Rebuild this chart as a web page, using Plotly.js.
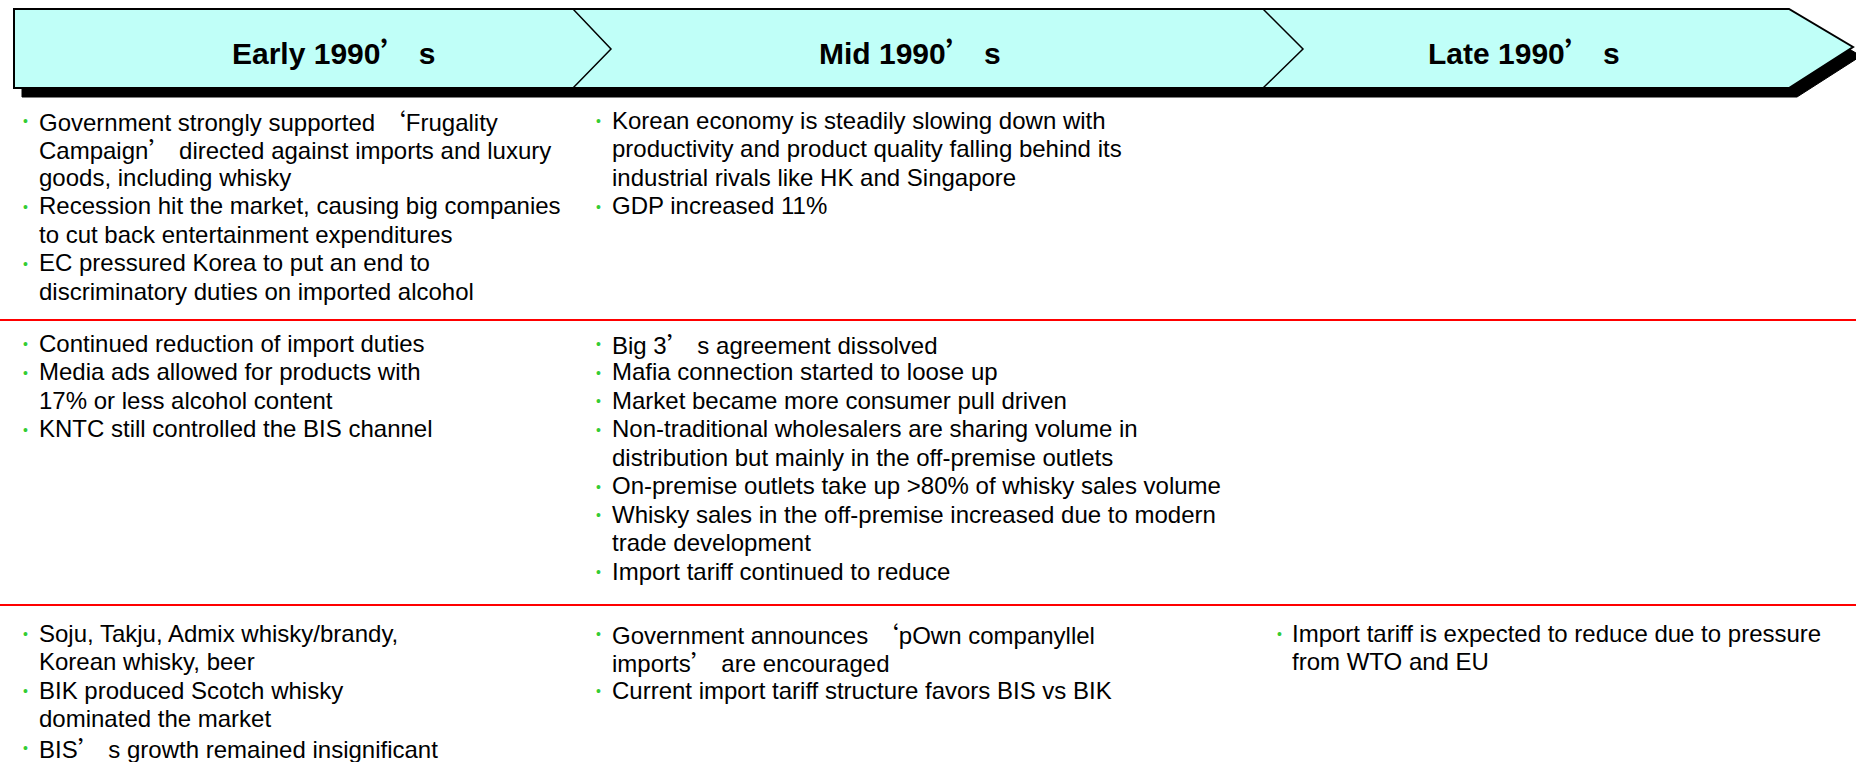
<!DOCTYPE html>
<html>
<head>
<meta charset="utf-8">
<script src="https://cdn.plot.ly/plotly-3.0.1.min.js"></script>
<style>
html,body{margin:0;padding:0;background:#fff;}
#chart{width:1856px;height:762px;}
</style>
</head>
<body>
<div id="chart"></div>
<script>
// ---------------- DATA ----------------
const periods = ["Early 1990’ s", "Mid 1990’ s", "Late 1990’ s"];

const earlyMarket = [
  ["Government strongly supported ‘Frugality", "Campaign’ directed against imports and luxury", "goods, including whisky"],
  ["Recession hit the market, causing big companies", "to cut back entertainment expenditures"],
  ["EC pressured Korea to put an end to", "discriminatory duties on imported alcohol"]
];
const midMarket = [
  ["Korean economy is steadily slowing down with", "productivity and product quality falling behind its", "industrial rivals like HK and Singapore"],
  ["GDP increased 11%"]
];
const lateMarket = [];

const earlyTrade = [
  ["Continued reduction of import duties"],
  ["Media ads allowed for products with", "17% or less alcohol content"],
  ["KNTC still controlled the BIS channel"]
];
const midTrade = [
  ["Big 3’ s agreement dissolved"],
  ["Mafia connection started to loose up"],
  ["Market became more consumer pull driven"],
  ["Non-traditional wholesalers are sharing volume in", "distribution but mainly in the off-premise outlets"],
  ["On-premise outlets take up >80% of whisky sales volume"],
  ["Whisky sales in the off-premise increased due to modern", "trade development"],
  ["Import tariff continued to reduce"]
];
const lateTrade = [];

const earlyProducts = [
  ["Soju, Takju, Admix whisky/brandy,", "Korean whisky, beer"],
  ["BIK produced Scotch whisky", "dominated the market"],
  ["BIS’ s growth remained insignificant"]
];
const midProducts = [
  ["Government announces ‘pOwn companyllel", "imports’ are encouraged"],
  ["Current import tariff structure favors BIS vs BIK"]
];
const lateProducts = [
  ["Import tariff is expected to reduce due to pressure", "from WTO and EU"]
];

const rows = [
  [earlyMarket, midMarket, lateMarket],
  [earlyTrade, midTrade, lateTrade],
  [earlyProducts, midProducts, lateProducts]
];

// ---------------- LAYOUT GEOMETRY / STYLE ----------------
const W = 1856, H = 762;
const geo = {
  left: 14, top: 9, bottom: 88, bodyRight: 1789, tipX: 1853, tipY: 47,
  shadowDx: 8, shadowDy: 9,
  chevrons: [[573, 611], [1263, 1303]], chevMidY: 49,
  titleX: [334, 910, 1524], titleY: 51,
  colX: [37, 610, 1290], bulletX: [25, 598, 1279],
  rowStart: [120, 343, 633], lineStep: 28.5,
  dividers: [320, 605]
};
const bodyFont = "Arial, 'Liberation Sans', sans-serif";
const cjkFont = "'Noto Sans CJK SC', 'Noto Sans CJK JP', sans-serif";

function quoteWrap(s) {
  return s.replace(/([‘’])/g, "<span style=\"font-family:" + cjkFont.replace(/"/g, "'") + "\">$1</span>");
}

const shapes = [];
const annotations = [];

function headerPath(dx, dy) {
  const g = geo;
  return `M ${g.left+dx},${g.top+dy} L ${g.bodyRight+dx},${g.top+dy} L ${g.tipX+dx},${g.tipY+dy} L ${g.bodyRight+dx},${g.bottom+dy} L ${g.left+dx},${g.bottom+dy} Z`;
}
shapes.push({type: 'path', xref: 'x', yref: 'y', path: headerPath(geo.shadowDx, geo.shadowDy),
  fillcolor: '#000000', line: {color: '#000000', width: 1}, layer: 'above'});
shapes.push({type: 'path', xref: 'x', yref: 'y', path: headerPath(0, 0),
  fillcolor: '#c0fff8', line: {color: '#000000', width: 2}, layer: 'above'});
geo.chevrons.forEach(([a, b]) => {
  shapes.push({type: 'path', xref: 'x', yref: 'y',
    path: `M ${a},${geo.top} L ${b},${geo.chevMidY} L ${a},${geo.bottom}`,
    line: {color: '#000000', width: 1.5}, layer: 'above'});
});
geo.dividers.forEach(y => {
  shapes.push({type: 'line', xref: 'x', yref: 'y', x0: 0, x1: W, y0: y, y1: y,
    line: {color: '#ff0000', width: 2.2}, layer: 'above'});
});

// titles
periods.forEach((p, i) => {
  annotations.push({xref: 'x', yref: 'y', x: geo.titleX[i], y: geo.titleY, showarrow: false,
    xanchor: 'center', yanchor: 'middle', text: quoteWrap(p),
    font: {family: bodyFont, size: 30, color: '#000000', weight: 700}});
});

// body bullets
rows.forEach((row, r) => {
  row.forEach((items, c) => {
    let k = 0;
    items.forEach(item => {
      item.forEach((line, j) => {
        const y = geo.rowStart[r] + k * geo.lineStep;
        if (j === 0) {
          annotations.push({xref: 'x', yref: 'y', x: geo.bulletX[c], y: y + 1, showarrow: false,
            xanchor: 'center', yanchor: 'middle', text: '•',
            font: {family: bodyFont, size: 14, color: '#33cc33'}});
        }
        annotations.push({xref: 'x', yref: 'y', x: geo.colX[c], y: y, showarrow: false,
          xanchor: 'left', yanchor: 'middle', text: quoteWrap(line),
          font: {family: bodyFont, size: 24, color: '#000000'}});
        k++;
      });
    });
  });
});

const layout = {
  width: W, height: H,
  margin: {l: 0, r: 0, t: 0, b: 0},
  paper_bgcolor: '#ffffff', plot_bgcolor: '#ffffff',
  showlegend: false,
  xaxis: {range: [0, W], visible: false, fixedrange: true},
  yaxis: {range: [H, 0], visible: false, fixedrange: true},
  shapes: shapes,
  annotations: annotations
};

Plotly.newPlot('chart', [{x: [], y: [], type: 'scatter', mode: 'markers', hoverinfo: 'skip'}], layout,
  {staticPlot: true, displayModeBar: false});
</script>
</body>
</html>
